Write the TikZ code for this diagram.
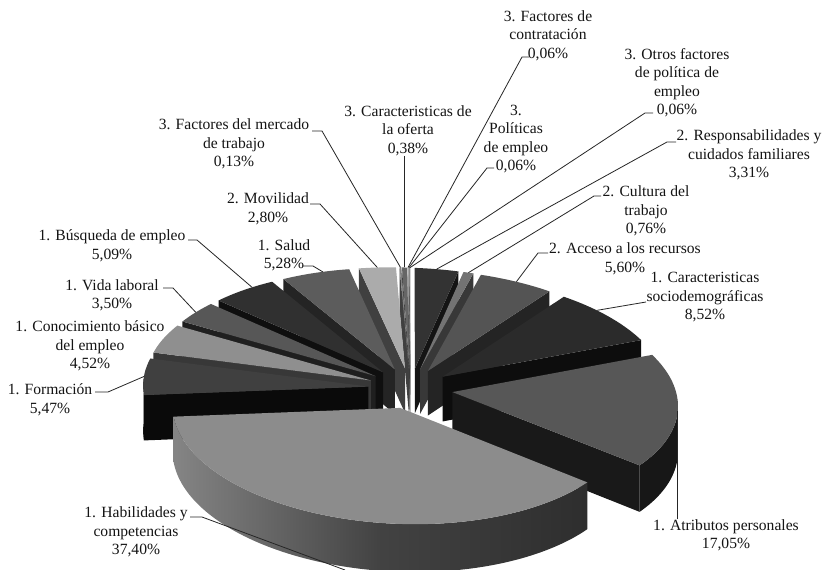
\documentclass[tikz,border=0pt]{standalone}
\usepackage{fontspec}
\setmainfont{Liberation Serif}
\newcommand\pieslice[5]{%
  \pgfmathsetmacro\sA{#1}%
  \pgfmathsetmacro\sB{#2}%
  \pgfmathsetmacro\sF{(\sA+\sB)/2}%
  \pgfmathtruncatemacro\sN{max(1,ceil((\sB-\sA)/1.5))}%
  \pgfmathtruncatemacro\vS{sin(\sA)<0}%
  \pgfmathtruncatemacro\vE{sin(\sB)>0.001}%
  \pgfmathsetmacro\oL{max(\sA,90)}%
  \pgfmathsetmacro\oH{min(\sB,270)}%
  \pgfmathtruncatemacro\vO{\oH>\oL+0.01}%
  \pgfmathtruncatemacro\oN{max(1,ceil((\oH-\oL)/1.5))}%
  \ifnum\vS=1
    \fill[#4] ({PX(0,0,\sF)},{PY(0,0,\sF,0)}) -- ({PX(\sA,1,\sF)},{PY(\sA,1,\sF,0)}) -- ({PX(\sA,1,\sF)},{PY(\sA,1,\sF,1)}) -- ({PX(0,0,\sF)},{PY(0,0,\sF,1)}) -- cycle;
  \fi
  \ifnum\vE=1
    \fill[#4] ({PX(0,0,\sF)},{PY(0,0,\sF,0)}) -- ({PX(\sB,1,\sF)},{PY(\sB,1,\sF,0)}) -- ({PX(\sB,1,\sF)},{PY(\sB,1,\sF,1)}) -- ({PX(0,0,\sF)},{PY(0,0,\sF,1)}) -- cycle;
  \fi
  \ifnum\vO=1
    \path[#5] ({PX(\oL,1,\sF)},{PY(\oL,1,\sF,0)})
      \foreach \i in {1,...,\oN}{ -- ({PX(\oL+(\oH-\oL)*\i/\oN,1,\sF)},{PY(\oL+(\oH-\oL)*\i/\oN,1,\sF,0)}) }
      \foreach \i in {0,...,\oN}{ -- ({PX(\oH-(\oH-\oL)*\i/\oN,1,\sF)},{PY(\oH-(\oH-\oL)*\i/\oN,1,\sF,1)}) }
      -- cycle;
  \fi
  \fill[#3] ({PX(0,0,\sF)},{PY(0,0,\sF,0)})
    \foreach \i in {0,...,\sN}{ -- ({PX(\sA+(\sB-\sA)*\i/\sN,1,\sF)},{PY(\sA+(\sB-\sA)*\i/\sN,1,\sF,0)}) } -- cycle;
}
\newcommand\sliceanchor[3]{\coordinate (#1) at ({PX(#2,1,#3)},{PY(#2,1,#3,0)});}
\begin{document}
\begin{tikzpicture}[x=1pt,y=-1pt,
  declare function={
    pu(\qt,\qr,\qf)=\qr*sin(\qt)+0.187*sin(\qf);
    pv(\qt,\qr,\qf)=\qr*cos(\qt)+0.187*cos(\qf);
    ps(\qt,\qr,\qf)=1/(1+0.0512*pv(\qt,\qr,\qf));
    PX(\qt,\qr,\qf)=410.5+225*pu(\qt,\qr,\qf)*ps(\qt,\qr,\qf);
    PY(\qt,\qr,\qf,\qz)=388.5+(-108*pv(\qt,\qr,\qf)+7.6*pu(\qt,\qr,\qf)+45*\qz)*ps(\qt,\qr,\qf);
  },
  lbl/.style={align=center, inner sep=0pt, font=\fontsize{15.6}{18.5}\selectfont, text=black!92},
  leader/.style={draw=black!85, line width=0.8pt},
]
\fill[white] (0,0) rectangle (822,570);
\useasboundingbox (0,0) rectangle (822,570);

% slices, back to front
\pieslice{359.748}{360}{black!45}{black!75}{fill=black!75}
\pieslice{359.532}{359.748}{black!70}{black!85}{fill=black!85}
\pieslice{359.316}{359.532}{black!40}{black!70}{fill=black!70}
\pieslice{357.948}{359.316}{black!60}{black!80}{fill=black!80}
\pieslice{357.48}{357.948}{black!50}{black!75}{fill=black!75}
\pieslice{0}{11.916}{black!80}{black!92}{fill=black!92}
\pieslice{347.4}{357.48}{black!33}{black!75}{fill=black!75}
\pieslice{11.916}{14.652}{black!55}{black!78}{fill=black!78}
\pieslice{328.392}{347.4}{black!64}{black!86}{fill=black!86}
\pieslice{14.652}{34.812}{black!67}{black!86}{fill=black!86}
\pieslice{310.068}{328.392}{black!81}{black!94}{fill=black!94}
\pieslice{34.812}{65.484}{black!83}{black!95}{fill=black!95}
\pieslice{297.468}{310.068}{black!66}{black!88}{fill=black!88}
\pieslice{281.196}{297.468}{black!44}{black!78}{fill=black!78}
\pieslice{261.504}{281.196}{black!75}{black!96}{fill=black!92}
\pieslice{65.484}{126.864}{black!66}{black!90}{fill=black!91}
\pieslice{126.864}{261.504}{black!45}{black!80}{left color=black!48, right color=black!82, middle color=black!74}

% leader anchors on the slices
\sliceanchor{aOtr}{359.874}{359.874}
\sliceanchor{aPol}{359.64}{359.64}
\sliceanchor{aCon}{359.424}{359.424}
\sliceanchor{aOfe}{358.632}{358.632}
\sliceanchor{aMer}{357.714}{357.714}
\sliceanchor{aRes}{5.958}{5.958}
\sliceanchor{aMov}{352.44}{352.44}
\sliceanchor{aCul}{13.284}{13.284}
\sliceanchor{aSal}{340}{337.896}
\sliceanchor{aAcc}{24.732}{24.732}
\sliceanchor{aBus}{322}{319.23}
\sliceanchor{aSoc}{46}{50.148}
\sliceanchor{aVid}{303.768}{303.768}
\sliceanchor{aFor}{271.35}{271.35}
\sliceanchor{aAtr}{96.174}{96.174}
\coordinate (aHab) at (345,570);

% labels
\node[lbl] (lCon) at (548,35.5) {3. Factores de\\contratación\\0,06\%};
\node[lbl] (lOtr) at (677,82.5) {3. Otros factores\\de política de\\empleo\\0,06\%};
\node[lbl] (lRes) at (749,155) {2. Responsabilidades y\\cuidados familiares\\3,31\%};
\node[lbl] (lCul) at (646,211) {2. Cultura del\\trabajo\\0,76\%};
\node[lbl] (lAcc) at (625,259) {2. Acceso a los recursos\\5,60\%};
\node[lbl] (lSoc) at (705,297.5) {1. Caracteristicas\\sociodemográficas\\8,52\%};
\node[lbl] (lAtr) at (726,535.5) {1. Atributos personales\\17,05\%};
\node[lbl] (lHab) at (136,532) {1. Habilidades y\\competencias\\37,40\%};
\node[lbl] (lFor) at (50,400) {1. Formación\\5,47\%};
\node[lbl] (lCnc) at (90,346) {1. Conocimiento básico\\del empleo\\4,52\%};
\node[lbl] (lVid) at (112,295.5) {1. Vida laboral\\3,50\%};
\node[lbl] (lBus) at (112,246) {1. Búsqueda de empleo\\5,09\%};
\node[lbl] (lSal) at (284,255.5) {1. Salud\\5,28\%};
\node[lbl] (lMov) at (268,209) {2. Movilidad\\2,80\%};
\node[lbl] (lMer) at (234,144) {3. Factores del mercado\\de trabajo\\0,13\%};
\node[lbl] (lOfe) at (408,130.5) {3. Caracteristicas de\\la oferta\\0,38\%};
\node[lbl] (lPol) at (516,139) {3.\\Políticas\\de empleo\\0,06\%};

% tab points next to the labels
\coordinate (tCon1) at (529,57);   \coordinate (tCon2) at (522,57);
\coordinate (tOtr1) at (653,113);  \coordinate (tOtr2) at (645,113);
\coordinate (tRes1) at (676,142);  \coordinate (tRes2) at (667,142);
\coordinate (tCul1) at (601,196);  \coordinate (tCul2) at (594,196);
\coordinate (tAcc1) at (548,253);  \coordinate (tAcc2) at (538,253);
\coordinate (tSoc1) at (646,302);
\coordinate (tPol1) at (494,168);  \coordinate (tPol2) at (487,168);
\coordinate (tHab1) at (190,517);  \coordinate (tHab2) at (202,517);
\coordinate (tFor1) at (95,392);   \coordinate (tFor2) at (108,392);
\coordinate (tVid1) at (163,288);  \coordinate (tVid2) at (173,288);
\coordinate (tBus1) at (188,240);  \coordinate (tBus2) at (197,240);
\coordinate (tSal1) at (302,266);  \coordinate (tSal2) at (313,266);
\coordinate (tMov1) at (310,204);  \coordinate (tMov2) at (320,204);
\coordinate (tMer1) at (312,131);  \coordinate (tMer2) at (322,131);

% leader lines
\draw[leader] (tCon1) -- (tCon2) -- (aCon);
\draw[leader] (tOtr1) -- (tOtr2) -- (aOtr);
\draw[leader] (tRes1) -- (tRes2) -- (aRes);
\draw[leader] (tCul1) -- (tCul2) -- (aCul);
\draw[leader] (tAcc1) -- (tAcc2) -- (aAcc);
\draw[leader] (tSoc1) -- (aSoc);
\draw[leader] (tPol1) -- (tPol2) -- (aPol);
\draw[leader] (aAtr |- lAtr.north) -- (aAtr);
\draw[leader] (aOfe |- lOfe.south) -- (aOfe);
\draw[leader] (tHab1) -- (tHab2) -- (aHab);
\draw[leader] (tFor1) -- (tFor2) -- (aFor);
\draw[leader] (tVid1) -- (tVid2) -- (aVid);
\draw[leader] (tBus1) -- (tBus2) -- (aBus);
\draw[leader] (tSal1) -- (tSal2) -- (aSal);
\draw[leader] (tMov1) -- (tMov2) -- (aMov);
\draw[leader] (tMer1) -- (tMer2) -- (aMer);
\end{tikzpicture}
\end{document}
